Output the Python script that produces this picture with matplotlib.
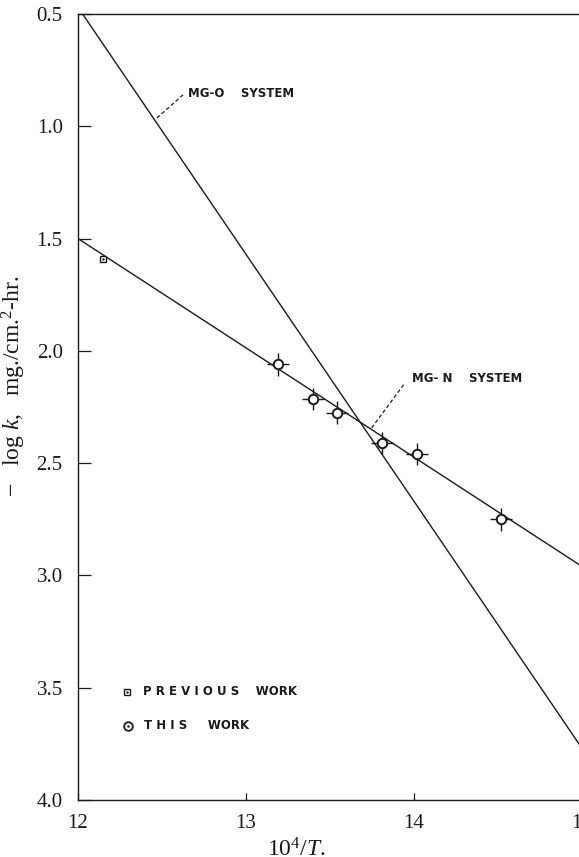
import numpy as np
import matplotlib
matplotlib.use('Agg')
import matplotlib.pyplot as plt

plt.rcParams['mathtext.fontset'] = 'custom'
plt.rcParams['mathtext.rm'] = 'Liberation Serif'
plt.rcParams['mathtext.it'] = 'Liberation Serif:italic'

# fitted lines (10^4/T, -log k)
mgo_x = [12.0, 15.0]
mgo_y = [0.47, 3.77]
mgn_x = [12.0, 15.0]
mgn_y = [1.50, 2.96]

# this work
this_x = [13.19, 13.40, 13.54, 13.81, 14.02, 14.52]
this_y = [2.06, 2.215, 2.275, 2.41, 2.46, 2.75]
# previous work
prev_x = [12.15]
prev_y = [1.592]

xticks = [12, 13, 14, 15]
yticks = [0.5, 1.0, 1.5, 2.0, 2.5, 3.0, 3.5, 4.0]

ink = '#1a1a1a'
serif = ['Liberation Serif', 'DejaVu Serif']
lettering = ['DejaVu Sans']

fig = plt.figure(figsize=(5.79, 8.57), dpi=100)
ax = fig.add_axes([78/579, 57/857, 504/579, 786/857])

ax.plot(mgo_x, mgo_y, color=ink, lw=1.0)
ax.plot(mgn_x, mgn_y, color=ink, lw=1.0)

ax.errorbar(this_x, this_y, xerr=0.065, yerr=0.05, fmt='none',
            ecolor=ink, elinewidth=1.0, capsize=0, zorder=3)
ax.plot(this_x, this_y, 'o', ms=6.8, mfc='white', mec=ink, mew=1.4, zorder=4)
ax.plot(prev_x, prev_y, 's', ms=4.5, mfc='white', mec=ink, mew=1.0, zorder=4)
ax.plot(prev_x, prev_y, '.', ms=1.5, color=ink, zorder=5)

# annotations
ax.plot([12.47, 12.625], [0.963, 0.86], ls=(0, (3, 2)), color=ink, lw=0.9)
ax.text(12.655, 0.856, 'MG-O    SYSTEM', fontsize=8.5, fontweight='bold',
        family=lettering, color=ink, va='center', ha='left')
ax.plot([13.748, 13.946], [2.343, 2.143], ls=(0, (3, 2)), color=ink, lw=0.9)
ax.text(13.99, 2.125, 'MG- N    SYSTEM', fontsize=8.5, fontweight='bold',
        family=lettering, color=ink, va='center', ha='left')

# key
ax.plot([0.0975], [1 - 3.517/3.5 + 0.5/3.5], 's', transform=ax.transAxes,
        ms=4.5, mfc='white', mec=ink, mew=1.0)
ax.plot([0.0975], [1 - 3.517/3.5 + 0.5/3.5], '.', transform=ax.transAxes,
        ms=1.5, color=ink)
ax.text(12.389, 3.517, 'P R E V I O U S    WORK', fontsize=8.5, fontweight='bold',
        family=lettering, color=ink, va='center', ha='left')
ax.plot([0.0985], [1 - 3.67/3.5 + 0.5/3.5], 'o', transform=ax.transAxes,
        ms=6.2, mfc='white', mec=ink, mew=1.3)
ax.plot([0.0985], [1 - 3.67/3.5 + 0.5/3.5], '.', transform=ax.transAxes,
        ms=1.5, color=ink)
ax.text(12.393, 3.67, 'T H I S     WORK', fontsize=8.5, fontweight='bold',
        family=lettering, color=ink, va='center', ha='left')

ax.set_xlim(12, 15)
ax.set_ylim(4.0, 0.5)
ax.set_xticks(xticks)
ax.set_xticklabels([str(t) for t in xticks], family=serif, fontsize=15)
ax.set_yticks(yticks)
ax.set_yticklabels(['%.1f' % t for t in yticks], family=serif, fontsize=15)
ax.tick_params(axis='y', direction='in', length=9, width=0.9, pad=11, colors=ink)
ax.tick_params(axis='x', direction='in', length=5, width=0.9, pad=10, colors=ink)
for s in ax.spines.values():
    s.set_linewidth(1.0)
    s.set_color(ink)

ax.set_ylabel(r'$-$   log $k$,   mg./cm.$^2$-hr.', family=serif, fontsize=17, color=ink)
ax.yaxis.set_label_coords(-0.099, 0.527)
ax.set_xlabel(r'10$^4$/$T$.', family=serif, fontsize=17, color=ink)
ax.xaxis.set_label_coords(0.433, -0.049)

plt.savefig('out.png', dpi=100)
